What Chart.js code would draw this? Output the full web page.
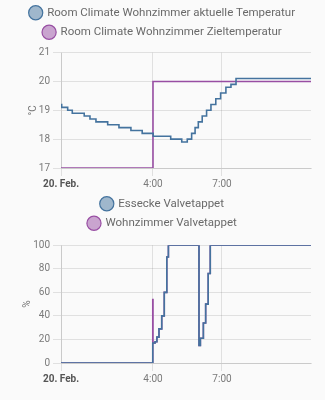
<!DOCTYPE html>
<html>
<head>
<meta charset="utf-8">
<script src="https://cdn.jsdelivr.net/npm/chart.js@4.4.1/dist/chart.umd.min.js"></script>
<style>
  html, body { margin: 0; padding: 0; background: #fafafa; }
  .box { position: absolute; left: 0; width: 325px; }
  #top { top: -1px; height: 193px; }
  #bot { top: 190px; height: 210px; }
</style>
</head>
<body>
<div class="box" id="top"><canvas id="tempChart"></canvas></div>
<div class="box" id="bot"><canvas id="valveChart"></canvas></div>
<script>
// hours since 20. Feb. 0:00
const xMax = 10.87;
const xTicks = [0, 4, 7];
const xLabels = ["20. Feb.", "4:00", "7:00"];

const tempNames = ["Room Climate Wohnzimmer aktuelle Temperatur", "Room Climate Wohnzimmer Zieltemperatur"];
const istTimes = [0, 0.03, 0.29, 0.49, 1.01, 1.26, 1.52, 2.03, 2.52, 3.04, 3.53, 4.01, 4.77, 5.25, 5.49,
  5.68, 5.83, 5.97, 6.14, 6.33, 6.52, 6.73, 6.94, 7.17, 7.39, 7.61, 10.87];
const istValues = [19.2, 19.1, 19.0, 18.9, 18.8, 18.7, 18.6, 18.5, 18.4, 18.3, 18.2, 18.1, 18.0, 17.9, 18.0,
  18.2, 18.4, 18.6, 18.8, 19.0, 19.2, 19.4, 19.6, 19.8, 19.9, 20.1, 20.1];
const zielTimes = [0, 4.0, 10.87];
const zielValues = [17, 20, 20];
const tempTicks = [17, 21];

const valveNames = ["Essecke Valvetappet", "Wohnzimmer Valvetappet"];
const esseckeTimes = [0, 3.99, 4.09, 4.17, 4.26, 4.38, 4.49, 4.6, 4.67, 6.0, 6.06, 6.19, 6.29, 6.4, 6.49, 10.87];
const esseckeValues = [0, 17, 18, 22, 29, 40, 60, 90, 100, 15, 21, 34, 50, 76, 100, 100];
const wohnTimes = [0, 3.99, 4.0, 4.09, 4.17, 4.26, 4.38, 4.49, 4.6, 4.67, 6.0, 6.06, 6.19, 6.29, 6.4, 6.49, 10.87];
const wohnValues = [0, 54, 17, 18, 22, 29, 40, 60, 90, 100, 15, 21, 34, 50, 76, 100, 100];
const valveTicks = [0, 100];

const blau = "#44739e";
const lila = "#984ea3";
const grau = "#7a7a7a";

function punkte(times, values) {
  return times.map((t, i) => ({ x: t, y: values[i] }));
}

function linie(label, times, values, farbe, fuell) {
  return {
    label: label,
    data: punkte(times, values),
    borderColor: farbe,
    backgroundColor: fuell,
    borderWidth: 1.6,
    stepped: true,
    pointRadius: 0,
    fill: false,
  };
}

// ein Eintrag pro Zeile in der Legende, mittig über die ganze Breite
const legendeUmbruch = {
  id: "legendeUmbruch",
  beforeLayout(chart, args, opts) {
    const lg = chart.legend;
    if (!lg || lg._umbruch) return;
    lg._umbruch = true;
    const fit = lg.fit;
    const extra = opts.extra || 0;
    lg.fit = function () {
      const voll = this.maxWidth;
      this.maxWidth = 120;
      fit.call(this);
      this.maxWidth = voll;
      this.width = voll;
      this.height += extra;
    };
  },
  afterLayout(chart) {
    chart.legend.left = 0;
    chart.legend.right = chart.width;
  },
};

function optionen(yTicks, step, titel, links, unten, extra) {
  return {
    responsive: true,
    maintainAspectRatio: false,
    animation: false,
    layout: { padding: { left: links, right: 14, top: 0, bottom: unten } },
    plugins: {
      legendeUmbruch: { extra: extra },
      legend: {
        position: "top",
        labels: {
          usePointStyle: true,
          pointStyle: "circle",
          boxWidth: 12,
          boxHeight: 10,
          padding: 8,
          color: "#6a6a6a",
          font: { family: "Roboto", size: 11.5 },
          generateLabels: (chart) =>
            Chart.defaults.plugins.legend.labels.generateLabels(chart).map((l) => ({ ...l, lineWidth: 1.2 })),
        },
      },
      tooltip: { enabled: false },
    },
    scales: {
      x: {
        type: "linear",
        min: 0,
        max: xMax,
        afterBuildTicks: (s) => { s.ticks = xTicks.map((v) => ({ value: v })); },
        ticks: {
          autoSkip: false,
          maxRotation: 0,
          padding: 2,
          callback: (v, i) => xLabels[i],
          color: (c) => (c.index === 0 ? "#555" : grau),
          font: (c) => ({ family: "Roboto", size: 10, weight: c.index === 0 ? "bold" : "normal" }),
        },
        grid: { color: "rgba(0,0,0,0.1)" },
      },
      y: {
        min: yTicks[0],
        max: yTicks[1],
        afterFit: (s) => { s.width = 61 - links; },
        ticks: { stepSize: step, color: grau, font: { family: "Roboto", size: 10 } },
        grid: { color: "rgba(0,0,0,0.1)" },
        title: { display: true, text: titel, color: grau, font: { family: "Roboto", size: 10 } },
      },
    },
  };
}

new Chart(document.getElementById("tempChart"), {
  type: "line",
  data: {
    datasets: [
      linie(tempNames[0], istTimes, istValues, blau, "rgba(68,115,158,0.5)"),
      linie(tempNames[1], zielTimes, zielValues, lila, "rgba(152,78,163,0.5)"),
    ],
  },
  options: optionen(tempTicks, 1, "°C", 23, 0, 4.6),
  plugins: [legendeUmbruch],
});

new Chart(document.getElementById("valveChart"), {
  type: "line",
  data: {
    datasets: [
      linie(valveNames[0], esseckeTimes, esseckeValues, blau, "rgba(68,115,158,0.5)"),
      linie(valveNames[1], wohnTimes, wohnValues, lila, "rgba(152,78,163,0.5)"),
    ],
  },
  options: optionen(valveTicks, 20, "%", 17, 13, 6.3),
  plugins: [legendeUmbruch],
});
</script>
</body>
</html>
